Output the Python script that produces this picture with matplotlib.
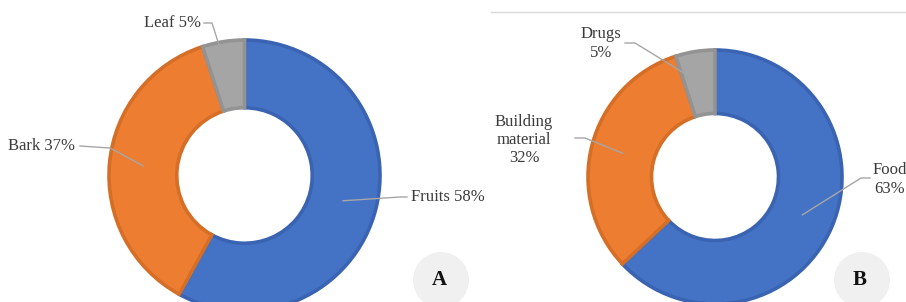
import numpy as np
import matplotlib
matplotlib.use("Agg")
import matplotlib.pyplot as plt
from matplotlib.patches import Circle

# Data
labels_a = ["Fruits", "Bark", "Leaf"]
values_a = [58, 37, 5]
labels_b = ["Food", "Building\nmaterial", "Drugs"]
values_b = [63, 32, 5]
panel_tags = ["A", "B"]

colors = ["#4472C4", "#ED7D31", "#A5A5A5"]
edges = ["#3A64B2", "#D56E26", "#939393"]

W, H = 906, 302
fig = plt.figure(figsize=(W / 100, H / 100), dpi=100)
ax = fig.add_axes([0, 0, 1, 1])
plt.rcParams['font.family'] = ['Liberation Serif', 'DejaVu Serif']

def Y(y):
    return H - y

def donut(vals, cx, cy, r):
    wedges, _ = ax.pie(vals, colors=colors, startangle=90, counterclock=False,
                       center=(cx, Y(cy)), radius=r,
                       wedgeprops=dict(width=r * 0.5, linewidth=2.6))
    for w, e in zip(wedges, edges):
        w.set_edgecolor(e)
    total = sum(vals)
    anchors = []
    cum = 0
    for v in vals:
        mid = np.deg2rad(90 - (cum + v / 2) / total * 360)
        rr = 0.75 * r
        anchors.append((cx + rr * np.cos(mid), Y(cy) + rr * np.sin(mid)))
        cum += v
    return anchors

lc = "#A6A6A6"
tc = "#3B3B3B"
fs = 12

# Panel A
anc = donut(values_a, 244.5, 175.5, 135.5)
texts_a = [(f"{labels_a[0]} {values_a[0]}%", 411, 197, "left", (407, 197)),
           (f"{labels_a[1]} {values_a[1]}%", 8, 146, "left", (80, 146)),
           (f"{labels_a[2]} {values_a[2]}%", 144, 23, "left", (204, 23))]
elbows_a = [(400, 197), (110, 148), (212, 23)]
for (t, x, y, ha, p0), el, a in zip(texts_a, elbows_a, anc):
    ax.text(x, Y(y), t, ha=ha, va="center", fontsize=fs, color=tc)
    ax.plot([p0[0], el[0], a[0]], [Y(p0[1]), Y(el[1]), a[1]], color=lc, lw=1)

# Panel B
anc = donut(values_b, 715, 177, 127)
texts_b = [(f"{labels_b[0]}\n{values_b[0]}%", 890, 179.5, "center", (870, 178)),
           (f"{labels_b[1]}\n{values_b[1]}%", 524, 140, "center", (575, 138)),
           (f"{labels_b[2]}\n{values_b[2]}%", 601, 43.5, "center", (625, 43))]
elbows_b = [(861, 178), (585, 138), (635, 43)]
for (t, x, y, ha, p0), el, a in zip(texts_b, elbows_b, anc):
    ax.text(x, Y(y), t, ha=ha, va="center", fontsize=fs, color=tc,
            linespacing=1.2)
    ax.plot([p0[0], el[0], a[0]], [Y(p0[1]), Y(el[1]), a[1]], color=lc, lw=1)

# top rule in panel B
ax.plot([491, 906], [Y(12), Y(12)], color="#D9D9D9", lw=1)

# tag circles
for tag, cx, cy in zip(panel_tags, [441, 862], [280, 280]):
    ax.add_patch(Circle((cx, Y(cy)), 28, facecolor="#F0F0F0", edgecolor="none"))
    ax.text(cx - 2, Y(cy), tag, ha="center", va="center", fontsize=15,
            fontweight="bold", color="#111111")

ax.set_xlim(0, W)
ax.set_ylim(0, H)
ax.set_aspect("auto")
ax.axis("off")
fig.savefig("out.png", dpi=100)
